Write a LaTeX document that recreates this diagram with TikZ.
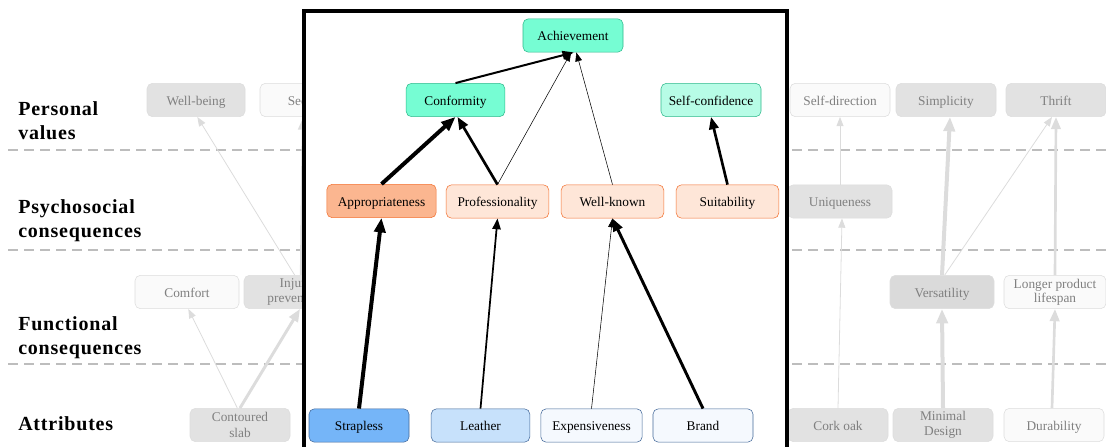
\documentclass[tikz,border=0pt]{standalone}
\usepackage{fontspec}
\setmainfont{Liberation Serif}
\usetikzlibrary{arrows.meta}
\definecolor{aquafill}{HTML}{76FDD3}
\definecolor{aqualight}{HTML}{B7FCE6}
\definecolor{aquaedge}{HTML}{2FB98C}
\definecolor{salmonfill}{HTML}{FBB690}
\definecolor{peachfill}{HTML}{FEE6D8}
\definecolor{orangeedge}{HTML}{F3702F}
\definecolor{bluefill}{HTML}{75B5F8}
\definecolor{bluelight}{HTML}{C7E1FB}
\definecolor{bluepale}{HTML}{F5F9FE}
\definecolor{blueedge}{HTML}{44699A}
\definecolor{greyfill}{HTML}{E2E2E2}
\definecolor{greydark}{HTML}{DADADA}
\definecolor{greyedge}{HTML}{DDDDDD}
\definecolor{greytext}{HTML}{808080}
\definecolor{greyline}{HTML}{DCDCDC}
\definecolor{dashgrey}{HTML}{BDBDBD}
\begin{document}
\begin{tikzpicture}[x=0.75pt,y=-0.75pt,
  box/.style={draw, rounded corners=4pt, minimum height=25pt, minimum width=75pt,
    inner sep=1pt, align=center, text height=8.5pt, text depth=0.5pt,
    font=\fontsize{10}{11}\selectfont},
  twoline/.style={text height=, text depth=, font=\fontsize{10}{#1}\selectfont},
  greybox/.style={box, fill=greyfill, draw=greyedge, text=greytext},
  whitebox/.style={box, fill=white!98!black, draw=greyedge, text=greytext},
  value/.style={box, fill=aquafill, draw=aquaedge},
  psycho/.style={box, fill=peachfill, draw=orangeedge},
  attr/.style={box, fill=bluepale, draw=blueedge},
  level/.style={anchor=west, align=left, inner sep=0pt,
    font=\fontsize{15}{18}\selectfont\bfseries\addfontfeature{LetterSpace=4}},
  link/.style={-{Triangle[length=6pt 1.6, width=4.5pt 1.3]}},
  glink/.style={link, draw=greyline, color=greyline},
  divider/.style={draw=dashgrey, line width=1.5pt, dash pattern=on 7.5pt off 4.5pt}
]
\useasboundingbox (0,0) rectangle (1106,446);
\clip (0,0) rectangle (1106,446);

% level separators
\path[divider] (8,150) -- (1106,150);
\path[divider] (8,250) -- (1106,250);
\path[divider] (8,364) -- (1106,364);

% level captions
\node[level] (lv1) at (18,121) {Personal\\values};
\node[level] (lv2) at (18,221) {Psychosocial\\consequences};
\node[level] (lv3) at (18,338) {Functional\\consequences};
\node[level] (lv4) at (18,424) {Attributes};

% faded chains, left
\node[greybox, minimum width=73.5pt] (wellb) at (196,100) {Well-being};
\node[whitebox] (secur) at (310,100) {Security};
\node[whitebox, minimum width=78pt] (comfort) at (187,292) {Comfort};
\node[greybox, minimum width=78pt, twoline=11] (injury) at (296,292) {Injury\\prevention};
\node[greybox, twoline=12] (slab) at (240,425) {Contoured\\slab};

\draw[glink, line width=0.6pt] ([xshift=-2pt]slab.north) -- ([xshift=1pt]comfort.south);
\draw[glink, line width=2.2pt] (slab.north) -- ([xshift=3pt]injury.south);
\draw[glink, line width=0.6pt] ([xshift=-1pt]injury.north) -- ([xshift=1pt]wellb.south);
\draw[glink, line width=2.2pt] ([xshift=4pt]injury.north) -- ([xshift=-5pt]secur.south);

% faded chains, right
\node[whitebox] (selfdir) at (840,100) {Self-direction};
\node[greybox] (simpl) at (946,100) {Simplicity};
\node[greybox] (thrift) at (1056,100) {Thrift};
\node[greybox, minimum width=78pt] (uniq) at (840,201.5) {Uniqueness};
\node[greybox, fill=greydark, minimum width=78pt] (vers) at (942,292) {Versatility};
\node[whitebox, minimum width=76.5pt, twoline=10.5] (longer) at (1055,292) {Longer product\\lifespan};
\node[greybox] (cork) at (838,425) {Cork oak};
\node[greybox, twoline=11.5] (minimal) at (943,425) {Minimal\\Design};
\node[whitebox] (durab) at (1054,425) {Durability};

\draw[glink, line width=0.6pt] (cork.north) -- ([xshift=1.5pt]uniq.south);
\draw[glink, line width=0.6pt] (uniq.north) -- (selfdir.south);
\draw[glink, line width=3pt] (minimal.north) -- (vers.south);
\draw[glink, line width=3pt] (vers.north) -- ([xshift=3pt]simpl.south);
\draw[glink, line width=0.6pt] ([xshift=2pt]vers.north) -- ([xshift=-3pt]thrift.south);
\draw[glink, line width=2pt] (longer.north) -- (thrift.south);
\draw[glink, line width=2pt] ([xshift=-1.5pt]durab.north) -- (longer.south);

% highlighted ladder panel
\draw[line width=2.3pt, fill=white] (304,11) rectangle (787,480);

\node[value] (ach) at (573,35.5) {Achievement};
\node[value, minimum width=74pt] (conf) at (455.5,100) {Conformity};
\node[value, fill=aqualight] (selfc) at (711,100) {Self-confidence};

\node[psycho, fill=salmonfill, minimum width=82pt] (appr) at (381.5,201) {Appropriateness};
\node[psycho, minimum width=77pt] (prof) at (497.5,201.5) {Professionality};
\node[psycho, minimum width=77pt] (wk) at (612.5,201.5) {Well-known};
\node[psycho, minimum width=77pt] (suit) at (727.5,201.5) {Suitability};

\node[attr, fill=bluefill] (strap) at (359,425.5) {Strapless};
\node[attr, fill=bluelight, minimum width=74pt] (leather) at (480.5,425.5) {Leather};
\node[attr, minimum width=76pt] (expens) at (591.5,425.5) {Expensiveness};
\node[attr] (brand) at (703,425.5) {Brand};

\draw[link, line width=1.5pt] (conf.north) -- ([xshift=0.5pt]ach.south);
\draw[link, line width=0.4pt] (prof.north) -- ([xshift=-1.5pt]ach.south);
\draw[link, line width=0.4pt] (wk.north) -- ([xshift=2.5pt]ach.south);
\draw[link, line width=3pt] (appr.north) -- (conf.south);
\draw[link, line width=2pt] (prof.north) -- ([xshift=1.5pt]conf.south);
\draw[link, line width=2pt] (suit.north) -- (selfc.south);
\draw[link, line width=3pt] (strap.north) -- (appr.south);
\draw[link, line width=1.3pt] (leather.north) -- (prof.south);
\draw[link, line width=0.4pt] (expens.north) -- (wk.south);
\draw[link, line width=2.2pt] (brand.north) -- (wk.south);
\end{tikzpicture}
\end{document}
